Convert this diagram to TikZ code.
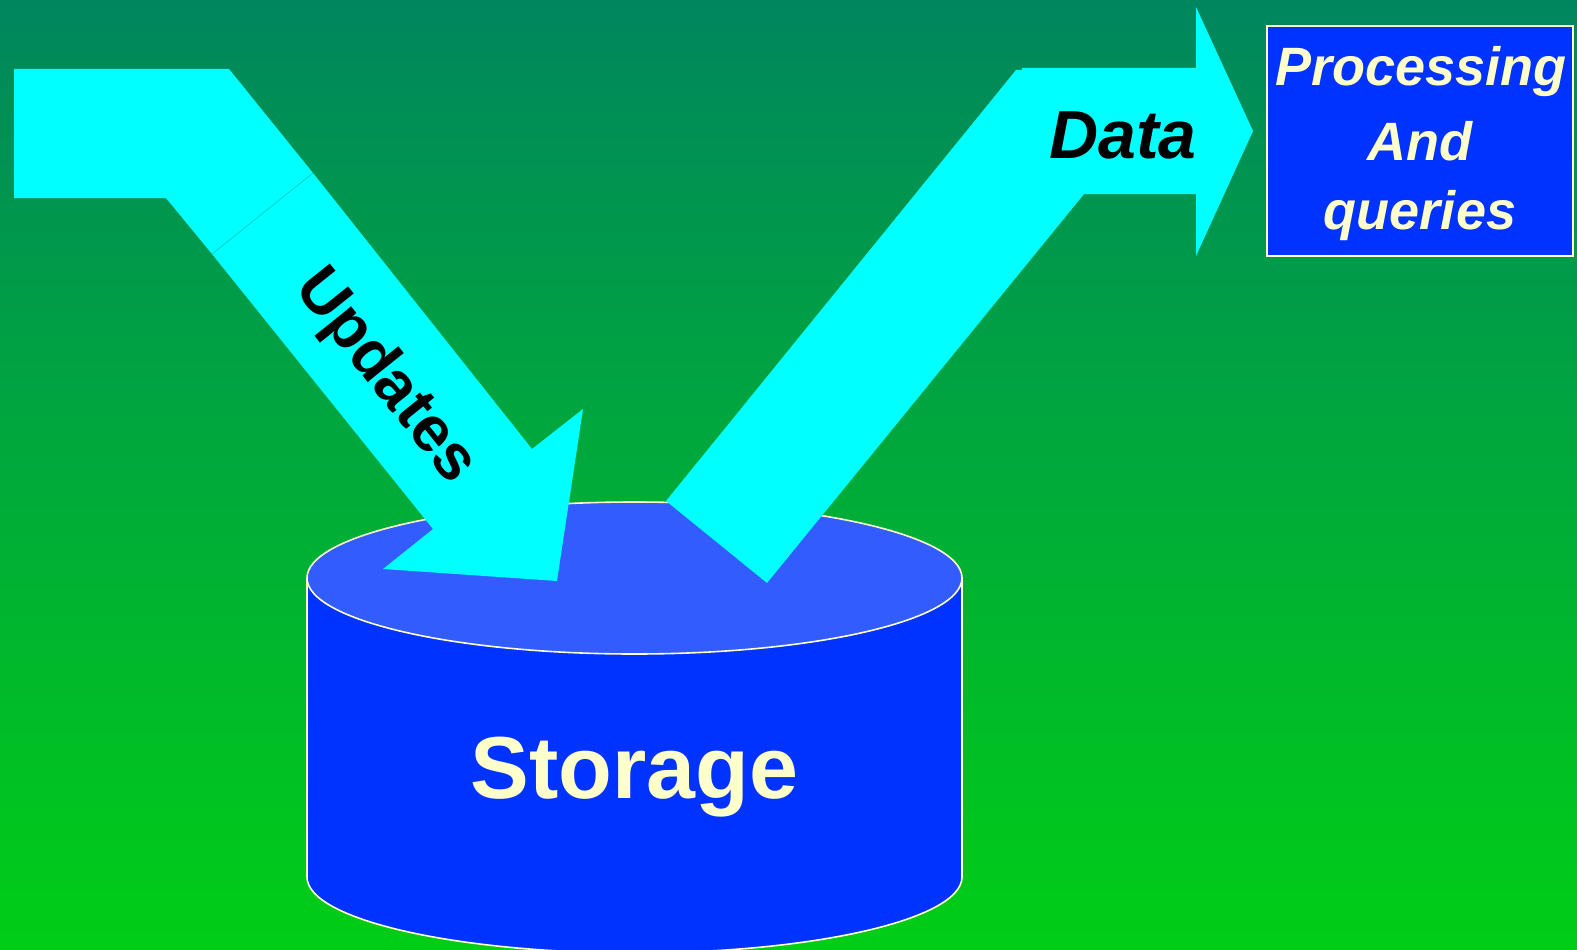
\documentclass[tikz,border=0pt]{standalone}
\usepackage{fontspec}
\setmainfont{Liberation Sans}
\definecolor{bgtop}{RGB}{0,134,94}
\definecolor{bgbot}{RGB}{0,206,22}
\definecolor{arrowcyan}{RGB}{0,255,255}
\definecolor{seam}{RGB}{0,200,190}
\definecolor{bodyblue}{RGB}{0,51,255}
\definecolor{topblue}{RGB}{51,92,255}
\definecolor{cream}{RGB}{255,255,204}
\tikzset{
  blockarrow/.style={fill=arrowcyan, draw=none},
  outline/.style={draw=cream, line width=1.6pt},
  bigtext/.style={font=\fontsize{88}{88}\selectfont\bfseries, text=cream, inner sep=0pt},
  arrowtext/.style={font=\fontsize{68}{68}\selectfont\bfseries, text=black, inner sep=0pt},
  boxtext/.style={font=\fontsize{54}{72}\selectfont\bfseries\itshape, text=cream, align=center, inner sep=0pt}
}
\begin{document}
\begin{tikzpicture}[x=1pt,y=-1pt]
\useasboundingbox (0,0) rectangle (1577,950);
\shade[top color=bgtop, bottom color=bgbot] (0,0) rectangle (1577,950);

% storage cylinder
\path[fill=bodyblue, outline] (307,578) -- (307,877)
  arc[start angle=180, end angle=0, x radius=327.5, y radius=76] -- (962,578);
\path[fill=topblue, outline] (634.5,578) ellipse[x radius=327.5, y radius=76];
\node[bigtext, anchor=base] (storage) at (634.5,798) {Storage};

% updates arrow
\fill[blockarrow] (14,69) -- (229,69) -- (313,173) -- (532,449) -- (583,409)
  -- (557,581) -- (383,569) -- (433,529) -- (212,254) -- (166,198) -- (14,198) -- cycle;
\coordinate (seamA) at (212,254);
\coordinate (seamB) at (313,173);
\draw[seam, line width=0.6pt] (seamA) -- (seamB);
\node[arrowtext, font=\fontsize{64}{64}\selectfont\bfseries, rotate=-51.3] (updates) at (385,377) {Updates};

% data arrow
\fill[blockarrow] (666,501) -- (1016,70) -- (1022,70) -- (1022,68) -- (1196,68)
  -- (1196,7) -- (1253,131) -- (1196,256) -- (1196,194) -- (1084,194) -- (767,583) -- cycle;
\node[arrowtext, font=\fontsize{68}{68}\selectfont\bfseries\itshape, anchor=base] (data) at (1123,158) {Data};

% processing box
\node[draw=cream, line width=2pt, fill=bodyblue, minimum width=306pt, minimum height=229pt, inner sep=0pt] (proc) at (1420,141) {};
\node[boxtext, anchor=base] (procA) at (1421,85) {Processing};
\node[boxtext, anchor=base] (procB) at (1420,160) {And};
\node[boxtext, anchor=base] (procC) at (1420,229) {queries};
\end{tikzpicture}
\end{document}
